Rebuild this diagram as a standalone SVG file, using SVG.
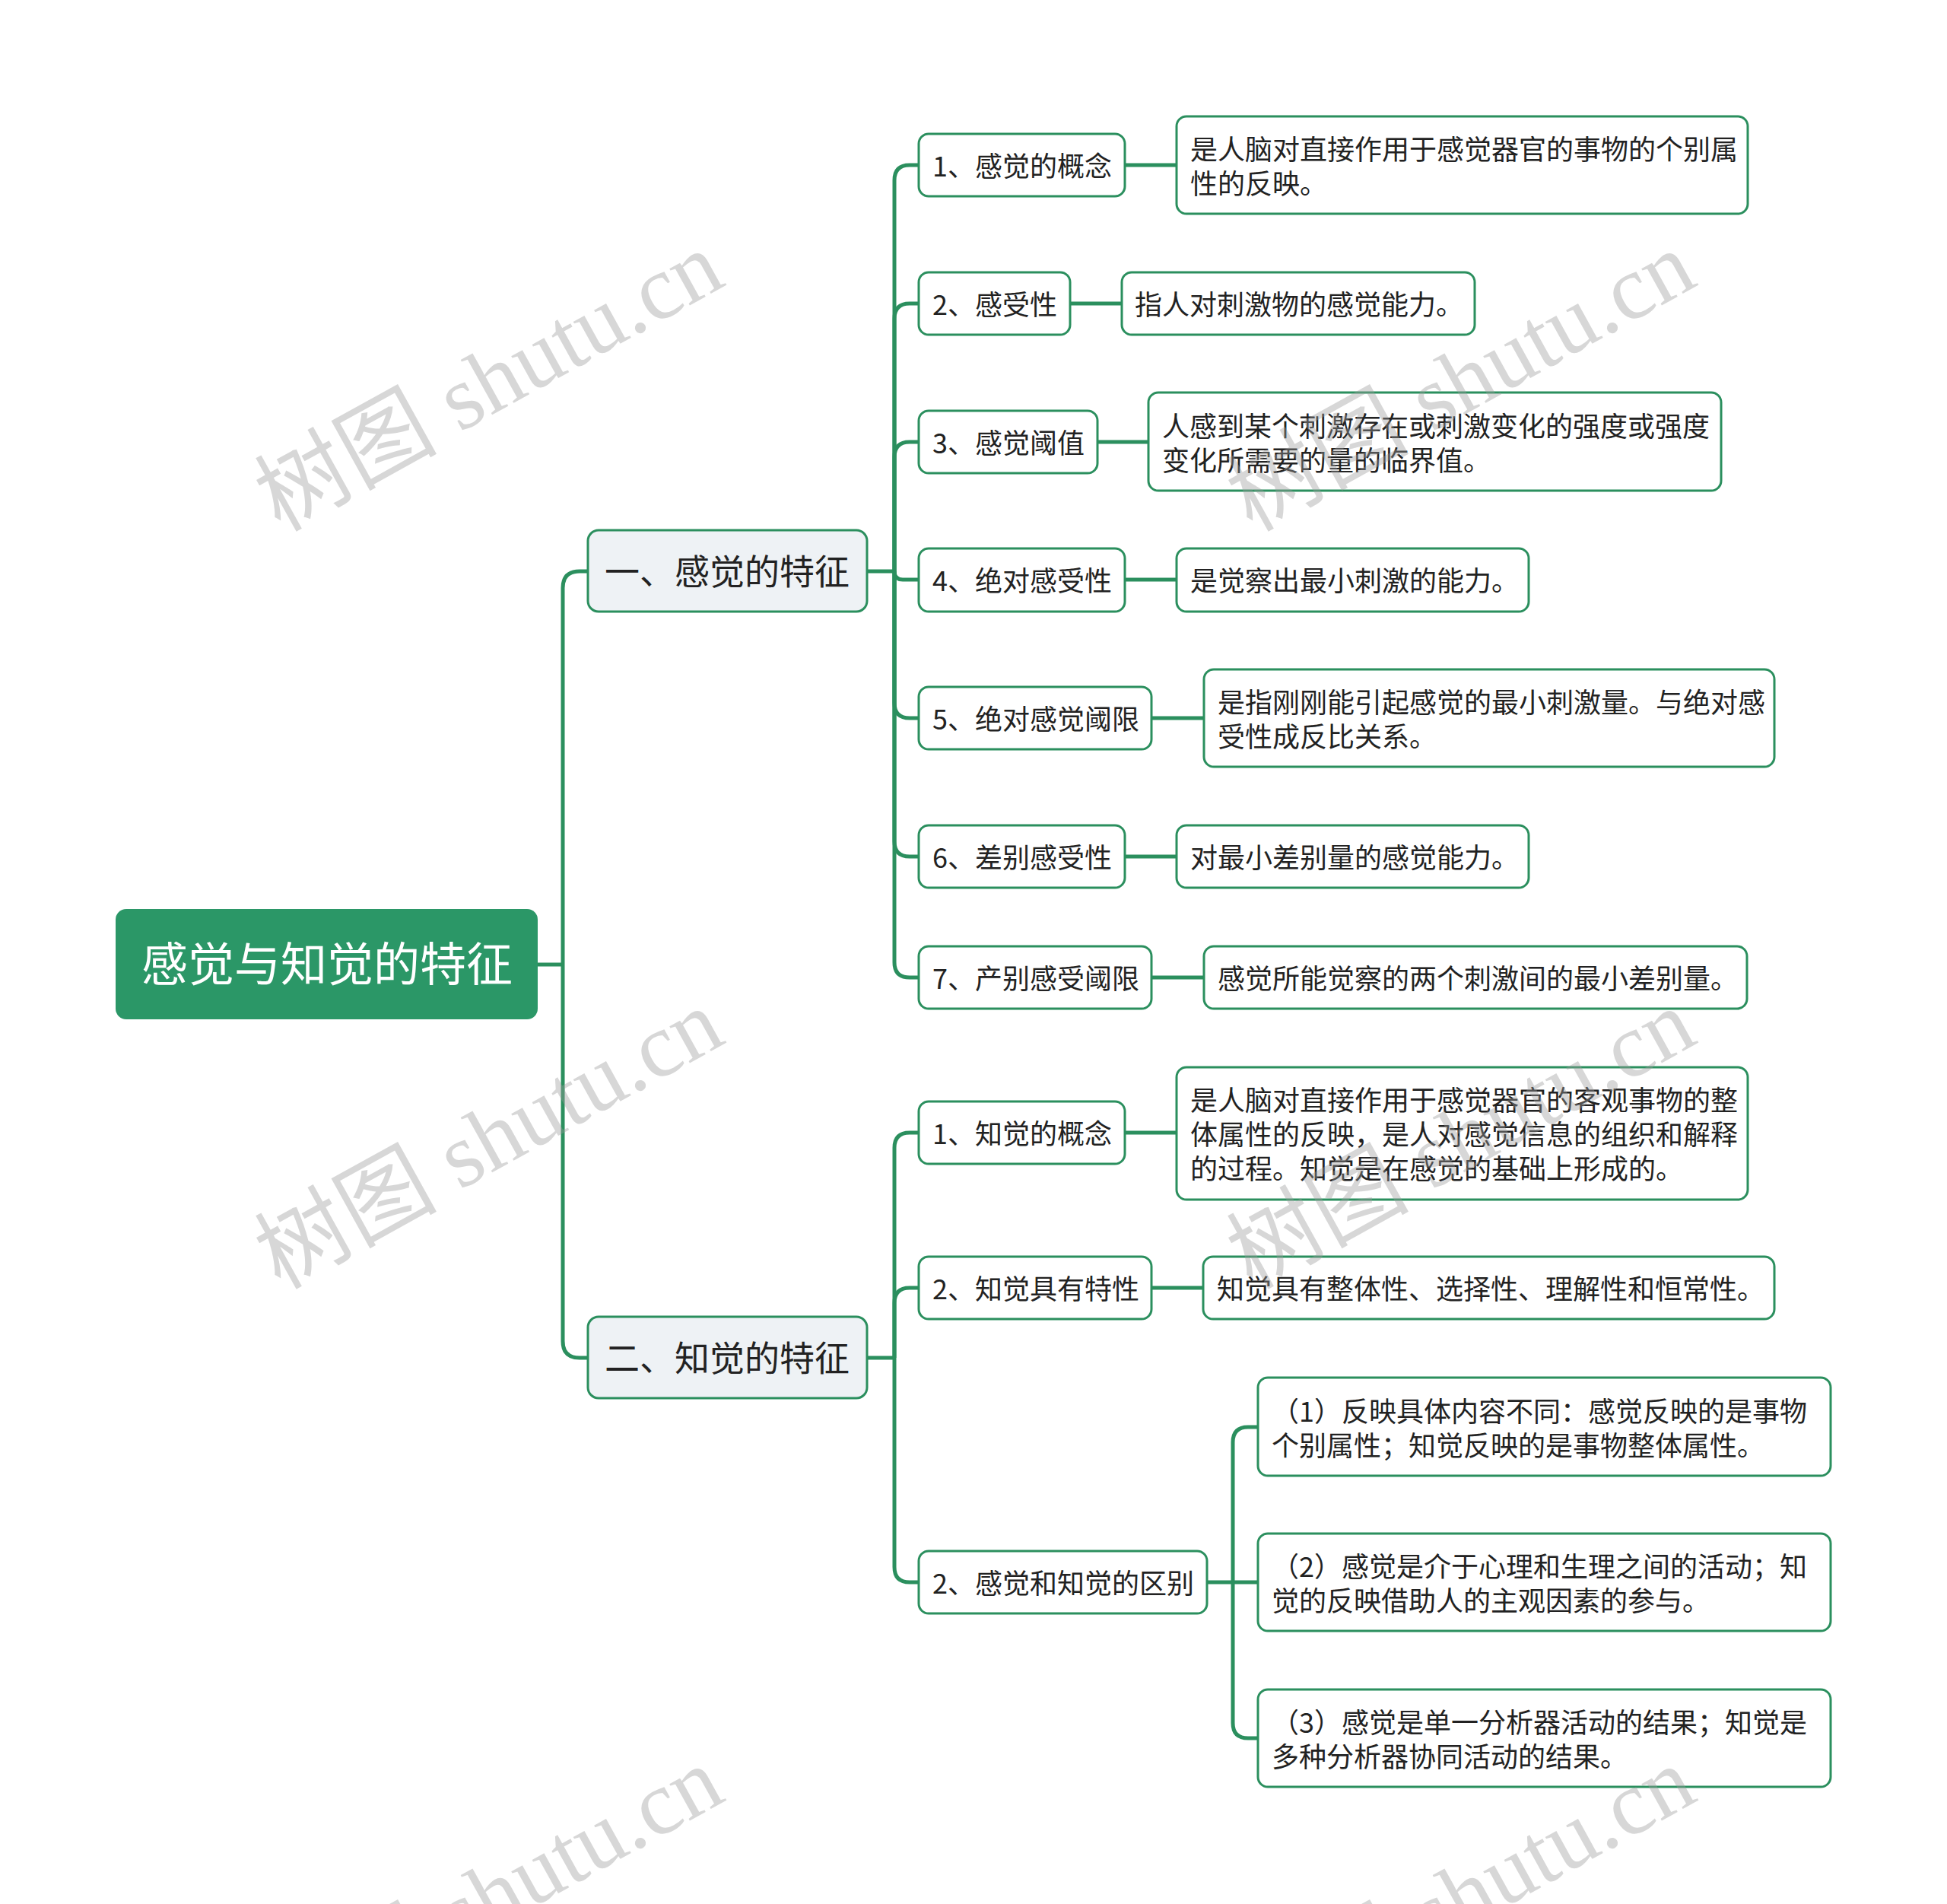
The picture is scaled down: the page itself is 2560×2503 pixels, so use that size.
<svg xmlns="http://www.w3.org/2000/svg" width="2560" height="2503" viewBox="0 0 2560 2503">
<style>
.bg{fill:#ffffff}
.conn{fill:none;stroke:#2b8f5e;stroke-width:5;stroke-linecap:butt;stroke-linejoin:round}
.root rect{fill:#2b9767;stroke:none}
.root text{fill:#ffffff;font-size:61px}
.main rect{fill:#eef2f5;stroke:#2b8f5e;stroke-width:3}
.main text{fill:#222222;font-size:46px}
.sub rect{fill:#ffffff;stroke:#2b8f5e;stroke-width:3}
.sub text{fill:#222222;font-size:36px}
text{font-family:"Noto Sans CJK SC","Noto Sans",sans-serif}
.wm text{font-family:"Liberation Serif","Noto Sans CJK SC",serif;font-size:120px;fill:#9a9a9a;fill-opacity:0.4}
</style>
<rect class="bg" x="0" y="0" width="2560" height="2503"/>

<g id="connectors">
  <path class="conn" d="M707,1268 H740"/>
  <path class="conn" d="M740,1268 V773 Q740,751 762,751 H773"/>
  <path class="conn" d="M740,1268 V1763 Q740,1785 762,1785 H773"/>
  <path class="conn" d="M1140,751 H1176"/>
  <path class="conn" d="M1176,751 V237 Q1176,217 1196,217 H1208"/>
  <path class="conn" d="M1176,751 V419 Q1176,399 1196,399 H1208"/>
  <path class="conn" d="M1176,751 V601 Q1176,581 1196,581 H1208"/>
  <path class="conn" d="M1176,751 Q1176,762 1187,762 H1208"/>
  <path class="conn" d="M1176,751 V924 Q1176,944 1196,944 H1208"/>
  <path class="conn" d="M1176,751 V1106 Q1176,1126 1196,1126 H1208"/>
  <path class="conn" d="M1176,751 V1265 Q1176,1285 1196,1285 H1208"/>
  <path class="conn" d="M1479,217 H1547"/>
  <path class="conn" d="M1407,399 H1475"/>
  <path class="conn" d="M1443,581 H1510"/>
  <path class="conn" d="M1479,762 H1547"/>
  <path class="conn" d="M1514,944 H1583"/>
  <path class="conn" d="M1479,1126 H1547"/>
  <path class="conn" d="M1514,1285 H1583"/>
  <path class="conn" d="M1140,1785 H1176"/>
  <path class="conn" d="M1176,1785 V1509 Q1176,1489 1196,1489 H1208"/>
  <path class="conn" d="M1176,1785 V1713 Q1176,1693 1196,1693 H1208"/>
  <path class="conn" d="M1176,1785 V2060 Q1176,2080 1196,2080 H1208"/>
  <path class="conn" d="M1479,1489 H1547"/>
  <path class="conn" d="M1514,1693 H1582"/>
  <path class="conn" d="M1587,2080 H1621"/>
  <path class="conn" d="M1621,2080 V1896 Q1621,1876 1641,1876 H1654"/>
  <path class="conn" d="M1621,2080 H1654"/>
  <path class="conn" d="M1621,2080 V2265 Q1621,2285 1641,2285 H1654"/>
</g>

<g id="root" class="root">
  <rect x="152" y="1195" width="555" height="145" rx="14"/>
  <text x="430" y="1290" text-anchor="middle">感觉与知觉的特征</text>
</g>

<g id="b1" class="main">
  <rect x="773" y="697" width="367" height="107" rx="14"/>
  <text x="956" y="768" text-anchor="middle">一、感觉的特征</text>
</g>
<g id="b2" class="main">
  <rect x="773" y="1731" width="367" height="107" rx="14"/>
  <text x="956" y="1802" text-anchor="middle">二、知觉的特征</text>
</g>

<g id="s1" class="sub">
  <rect x="1208" y="176" width="271" height="82" rx="13"/>
  <text x="1226" y="232">1、感觉的概念</text>
</g>
<g id="d1" class="sub">
  <rect x="1547" y="153" width="751" height="128" rx="13"/>
  <text x="1565" y="210">是人脑对直接作用于感觉器官的事物的个别属</text>
  <text x="1565" y="255">性的反映。</text>
</g>

<g id="s2" class="sub">
  <rect x="1208" y="358" width="199" height="82" rx="13"/>
  <text x="1226" y="414">2、感受性</text>
</g>
<g id="d2" class="sub">
  <rect x="1475" y="358" width="464" height="82" rx="13"/>
  <text x="1492" y="414">指人对刺激物的感觉能力。</text>
</g>

<g id="s3" class="sub">
  <rect x="1208" y="540" width="235" height="82" rx="13"/>
  <text x="1226" y="596">3、感觉阈值</text>
</g>
<g id="d3" class="sub">
  <rect x="1510" y="516" width="753" height="129" rx="13"/>
  <text x="1528" y="574">人感到某个刺激存在或刺激变化的强度或强度</text>
  <text x="1528" y="619">变化所需要的量的临界值。</text>
</g>

<g id="s4" class="sub">
  <rect x="1208" y="721" width="271" height="83" rx="13"/>
  <text x="1226" y="777">4、绝对感受性</text>
</g>
<g id="d4" class="sub">
  <rect x="1547" y="721" width="463" height="83" rx="13"/>
  <text x="1565" y="777">是觉察出最小刺激的能力。</text>
</g>

<g id="s5" class="sub">
  <rect x="1208" y="903" width="306" height="82" rx="13"/>
  <text x="1226" y="959">5、绝对感觉阈限</text>
</g>
<g id="d5" class="sub">
  <rect x="1583" y="880" width="750" height="128" rx="13"/>
  <text x="1601" y="937">是指刚刚能引起感觉的最小刺激量。与绝对感</text>
  <text x="1601" y="982">受性成反比关系。</text>
</g>

<g id="s6" class="sub">
  <rect x="1208" y="1085" width="271" height="82" rx="13"/>
  <text x="1226" y="1141">6、差别感受性</text>
</g>
<g id="d6" class="sub">
  <rect x="1547" y="1085" width="463" height="82" rx="13"/>
  <text x="1565" y="1141">对最小差别量的感觉能力。</text>
</g>

<g id="s7" class="sub">
  <rect x="1208" y="1244" width="306" height="82" rx="13"/>
  <text x="1226" y="1300">7、产别感受阈限</text>
</g>
<g id="d7" class="sub">
  <rect x="1583" y="1244" width="714" height="82" rx="13"/>
  <text x="1601" y="1300">感觉所能觉察的两个刺激间的最小差别量。</text>
</g>

<g id="t1" class="sub">
  <rect x="1208" y="1448" width="271" height="82" rx="13"/>
  <text x="1226" y="1504">1、知觉的概念</text>
</g>
<g id="e1" class="sub">
  <rect x="1547" y="1403" width="751" height="174" rx="13"/>
  <text x="1565" y="1460">是人脑对直接作用于感觉器官的客观事物的整</text>
  <text x="1565" y="1505">体属性的反映，是人对感觉信息的组织和解释</text>
  <text x="1565" y="1550">的过程。知觉是在感觉的基础上形成的。</text>
</g>

<g id="t2" class="sub">
  <rect x="1208" y="1652" width="306" height="82" rx="13"/>
  <text x="1226" y="1708">2、知觉具有特性</text>
</g>
<g id="e2" class="sub">
  <rect x="1582" y="1652" width="751" height="82" rx="13"/>
  <text x="1600" y="1708">知觉具有整体性、选择性、理解性和恒常性。</text>
</g>

<g id="t3" class="sub">
  <rect x="1208" y="2039" width="379" height="82" rx="13"/>
  <text x="1226" y="2095">2、感觉和知觉的区别</text>
</g>
<g id="f1" class="sub">
  <rect x="1654" y="1811" width="753" height="129" rx="13"/>
  <text x="1672" y="1869">（1）反映具体内容不同：感觉反映的是事物</text>
  <text x="1672" y="1914">个别属性；知觉反映的是事物整体属性。</text>
</g>
<g id="f2" class="sub">
  <rect x="1654" y="2016" width="753" height="128" rx="13"/>
  <text x="1672" y="2073">（2）感觉是介于心理和生理之间的活动；知</text>
  <text x="1672" y="2118">觉的反映借助人的主观因素的参与。</text>
</g>
<g id="f3" class="sub">
  <rect x="1654" y="2221" width="753" height="128" rx="13"/>
  <text x="1672" y="2278">（3）感觉是单一分析器活动的结果；知觉是</text>
  <text x="1672" y="2323">多种分析器协同活动的结果。</text>
</g>

<g id="watermarks" class="wm">
  <text transform="translate(368,700) rotate(-29)">树图 shutu.cn</text>
  <text transform="translate(1646,700) rotate(-29)">树图 shutu.cn</text>
  <text transform="translate(368,1696) rotate(-29)">树图 shutu.cn</text>
  <text transform="translate(1646,1696) rotate(-29)">树图 shutu.cn</text>
  <text transform="translate(368,2692) rotate(-29)">树图 shutu.cn</text>
  <text transform="translate(1646,2692) rotate(-29)">树图 shutu.cn</text>
</g>
</svg>
